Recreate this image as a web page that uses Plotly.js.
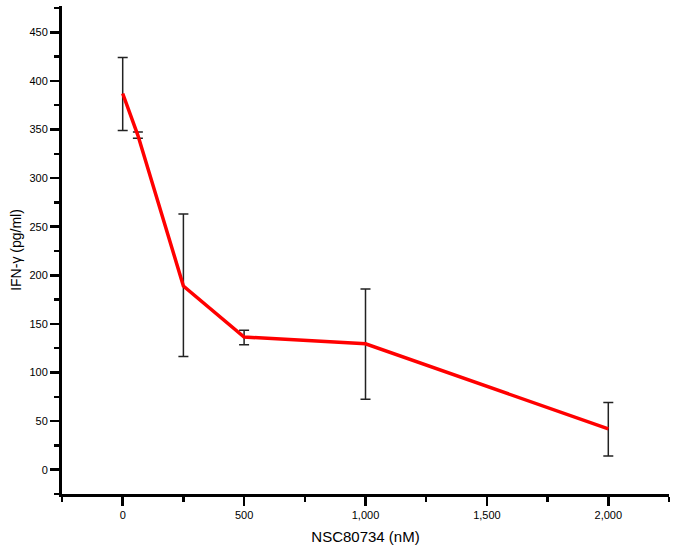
<!DOCTYPE html>
<html>
<head>
<meta charset="utf-8">
<script src="https://cdn.plot.ly/plotly-3.0.1.min.js"></script>
<style>html,body{margin:0;padding:0;background:#fff}#chart{width:675px;height:553px}</style>
</head>
<body>
<div id="chart"></div>
<script>
const concentrations = [0, 62.5, 250, 500, 1000, 2000];
const ifnGamma = [387, 344, 189, 136.5, 129.5, 42];
const errorPlus = [37, 3.5, 74, 7, 56.5, 27];
const errorMinus = [38, 3, 72.5, 8, 57, 28];
const xTickVals = [0, 500, 1000, 1500, 2000];
const yTickVals = [0, 50, 100, 150, 200, 250, 300, 350, 400, 450];

const trace = {
  x: concentrations,
  y: ifnGamma,
  type: 'scatter',
  mode: 'lines',
  line: {color: '#ff0000', width: 3.5},
  error_y: {
    type: 'data', symmetric: false,
    array: errorPlus, arrayminus: errorMinus,
    color: '#222222', thickness: 1.5, width: 5
  },
  hoverinfo: 'skip'
};

const font = {family: 'Liberation Sans, Arial, Helvetica, sans-serif', color: '#000'};

const layout = {
  width: 675, height: 553,
  margin: {l: 62, r: 6, t: 6, b: 59},
  paper_bgcolor: '#fff', plot_bgcolor: '#fff',
  showlegend: false,
  font: font,
  xaxis: {
    range: [-250, 2250],
    tickvals: xTickVals,
    tickformat: ',',
    ticks: 'outside', ticklen: 9, tickwidth: 2.5, tickcolor: '#000',
    minor: {dtick: 250, tick0: 0, ticks: 'outside', ticklen: 5, tickwidth: 2.5, tickcolor: '#000'},
    showline: true, linecolor: '#000', linewidth: 3,
    showgrid: false, zeroline: false,
    tickfont: {size: 11, family: font.family, color: '#000'},
    title: {text: 'NSC80734 (nM)', font: {size: 15, family: font.family, color: '#000'}, standoff: 12}
  },
  yaxis: {
    range: [-25, 477],
    tickvals: yTickVals,
    ticks: 'outside', ticklen: 9, tickwidth: 2.5, tickcolor: '#000',
    minor: {dtick: 25, tick0: 0, ticks: 'outside', ticklen: 5, tickwidth: 2.5, tickcolor: '#000'},
    showline: true, linecolor: '#000', linewidth: 3,
    showgrid: false, zeroline: false,
    tickfont: {size: 11, family: font.family, color: '#000'},
    title: {text: 'IFN-γ (pg/ml)', font: {size: 14, family: font.family, color: '#000'}, standoff: 5}
  }
};

Plotly.newPlot('chart', [trace], layout, {displayModeBar: false, staticPlot: true});
</script>
</body>
</html>
